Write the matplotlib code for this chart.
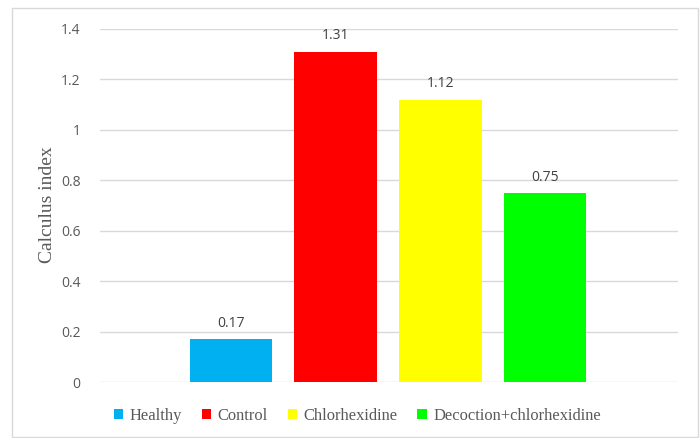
import matplotlib
matplotlib.use("Agg")
import matplotlib.pyplot as plt
from matplotlib.patches import Rectangle, Patch

groups = ["Healthy", "Control", "Chlorhexidine", "Decoction+chlorhexidine"]
values = [0.17, 1.31, 1.12, 0.75]
colors = ["#00B0F0", "#FF0000", "#FFFF00", "#00FF00"]
yticks = [0, 0.2, 0.4, 0.6, 0.8, 1.0, 1.2, 1.4]
ytick_labels = ["0", "0.2", "0.4", "0.6", "0.8", "1", "1.2", "1.4"]

W, H = 700, 438
fig = plt.figure(figsize=(W / 100, H / 100), dpi=100)
fig.patch.set_facecolor("white")

# chart border
fig.add_artist(Rectangle((11.5 / W, 1 - 437 / H), (697.5 - 11.5) / W, (437 - 8) / H,
                         transform=fig.transFigure, fill=False,
                         edgecolor="#D9D9D9", linewidth=1.0))

left, right = 100, 678
top, bottom = 29, 382.3
ax = fig.add_axes([left / W, 1 - bottom / H, (right - left) / W, (bottom - top) / H])

x = list(range(len(groups)))
bars = ax.bar(x, values, width=0.79, color=colors, zorder=3)
ax.set_xlim(-1.25, 4.27)
ax.set_ylim(0, 1.4)
ax.set_yticks(yticks)
ax.set_yticklabels(ytick_labels, fontfamily="Open Sans", fontsize=10, color="#595959")
ax.tick_params(axis="y", length=0, pad=14)
ax.set_xticks([])
for s in ax.spines.values():
    s.set_visible(False)
ax.grid(axis="y", color="#D9D9D9", linewidth=1.0, zorder=0)

for xi, v in zip(x, values):
    ax.annotate(f"{v:.2f}", (xi, v), xytext=(0, 6), textcoords="offset points",
                ha="center", va="bottom", fontfamily="Open Sans", fontsize=10,
                color="#404040")

fig.text(48 / W, 1 - 205 / H, "Calculus index", rotation=90, ha="center", va="center",
         fontfamily="Liberation Serif", fontsize=14, color="#595959")

handles = [Patch(facecolor=c, edgecolor="none") for c in colors]
leg = fig.legend(handles, groups, loc="center", bbox_to_anchor=(357.5 / W, 1 - 416 / H),
                 ncol=4, frameon=False, handlelength=0.55, handleheight=0.6,
                 handletextpad=0.4, columnspacing=1.2,
                 prop={"family": "Liberation Serif", "size": 11.9})
for t in leg.get_texts():
    t.set_color("#595959")

fig.savefig("out.png", dpi=100)
